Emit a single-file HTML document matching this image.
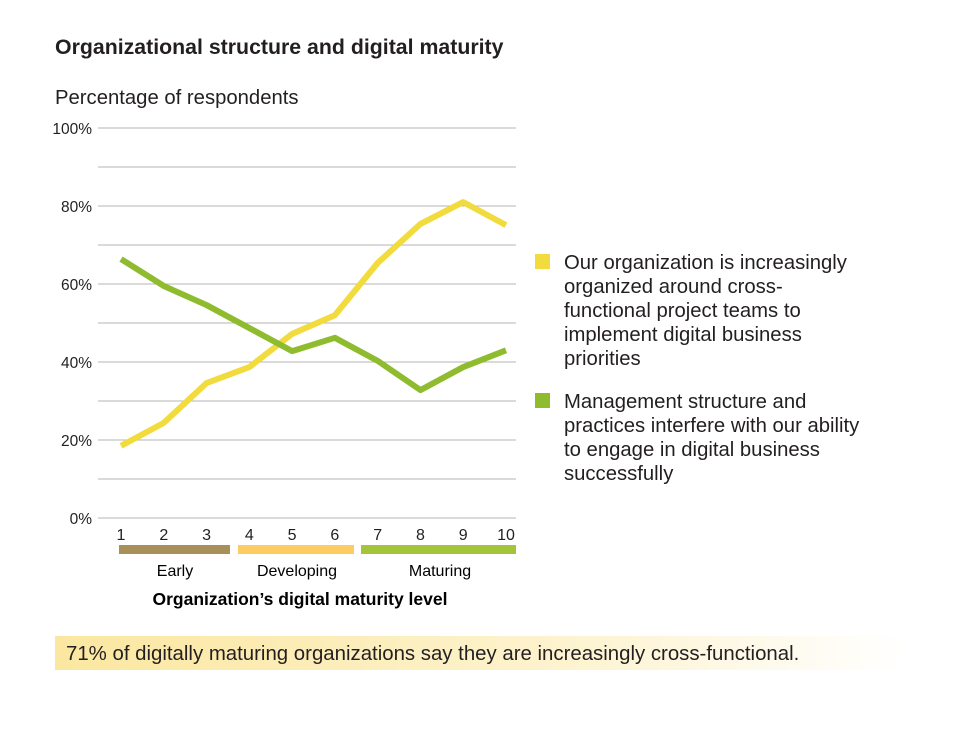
<!DOCTYPE html>
<html><head><meta charset="utf-8">
<style>
body{margin:0;background:#fff;width:960px;height:728px;overflow:hidden;font-family:"Liberation Sans",sans-serif;color:#231f20}
svg text{font-family:"Liberation Sans",sans-serif}
</style></head><body>
<svg id="chart" width="960" height="728" xmlns="http://www.w3.org/2000/svg">
<defs><linearGradient id="cg" x1="0" x2="1"><stop offset="0" stop-color="#fbe7a0"/><stop offset="0.6" stop-color="#fdf3cf"/><stop offset="1" stop-color="#fff"/></linearGradient></defs>
<text x="55" y="54" font-size="21.3" font-weight="bold" fill="#231f20">Organizational structure and digital maturity</text>
<text x="55" y="104" font-size="20.3" fill="#231f20">Percentage of respondents</text>
<g id="grid"></g><g id="series"></g>
<rect x="119" y="545" width="111" height="9" fill="#a89158"/>
<rect x="238" y="545" width="116" height="9" fill="#fdcc62"/>
<rect x="361" y="545" width="155" height="9" fill="#a3c43b"/>
<text x="175" y="576" font-size="16" text-anchor="middle">Early</text>
<text x="297" y="576" font-size="16" text-anchor="middle">Developing</text>
<text x="440" y="576" font-size="16" text-anchor="middle">Maturing</text>
<text x="300" y="605" font-size="17.5" font-weight="bold" text-anchor="middle">Organization’s digital maturity level</text>
<rect x="535" y="254" width="15" height="15" fill="#f2db3c"/>
<text font-size="20.3" fill="#231f20"><tspan x="564" y="269">Our organization is increasingly</tspan><tspan x="564" y="293">organized around cross-</tspan><tspan x="564" y="317">functional project teams to</tspan><tspan x="564" y="341">implement digital business</tspan><tspan x="564" y="365">priorities</tspan></text>
<rect x="535" y="393" width="15" height="15" fill="#8fbc2f"/>
<text font-size="20.3" fill="#231f20"><tspan x="564" y="408">Management structure and</tspan><tspan x="564" y="432">practices interfere with our ability</tspan><tspan x="564" y="456">to engage in digital business</tspan><tspan x="564" y="480">successfully</tspan></text>
<rect x="55" y="636" width="850" height="34" fill="url(#cg)"/>
<text x="66" y="660" font-size="20.4" fill="#231f20">71% of digitally maturing organizations say they are increasingly cross-functional.</text>
</svg>
<script>
const levels=[1,2,3,4,5,6,7,8,9,10];
const yTicks=[0,20,40,60,80,100];
const crossFunctional=[18.5,24.4,34.6,38.7,47.2,52,65.4,75.4,81,75.1];
const management=[66.4,59.5,54.6,48.7,42.8,46.2,40.3,32.8,38.7,43];
const NS="http://www.w3.org/2000/svg";
const x=v=>121+(v-1)*(506-121)/9;
const y=v=>518-v*3.9;
const grid=document.getElementById('grid'),ser=document.getElementById('series');
function mk(tag,attrs,parent){const e=document.createElementNS(NS,tag);for(const k in attrs)e.setAttribute(k,attrs[k]);parent.appendChild(e);return e;}
for(let g=0;g<=100;g+=10){
  const l=mk('line',{x1:98,x2:516,y1:y(g),y2:y(g),stroke:'#b5b5b5','stroke-width':1},grid);
  
  
}
yTicks.forEach(t=>{
  const e=mk('text',{x:92,y:y(t)+6,'font-size':15.5,'text-anchor':'end',fill:'#231f20'},grid);
  e.textContent=t+'%';
  
  
});
levels.forEach(v=>{
  const e=mk('text',{x:x(v),y:540,'font-size':16,'text-anchor':'middle',fill:'#231f20'},grid);
  e.textContent=v;
  
  
});
function line(vals,color,name){
  const p=mk('polyline',{points:vals.map((v,i)=>x(levels[i])+','+y(v)).join(' '),fill:'none',stroke:color,'stroke-width':6,'stroke-linejoin':'round'},ser);
  
  
}
line(crossFunctional,'#f2db3c','line-cross-functional');
line(management,'#8fbc2f','line-management');
</script>
</body></html>
